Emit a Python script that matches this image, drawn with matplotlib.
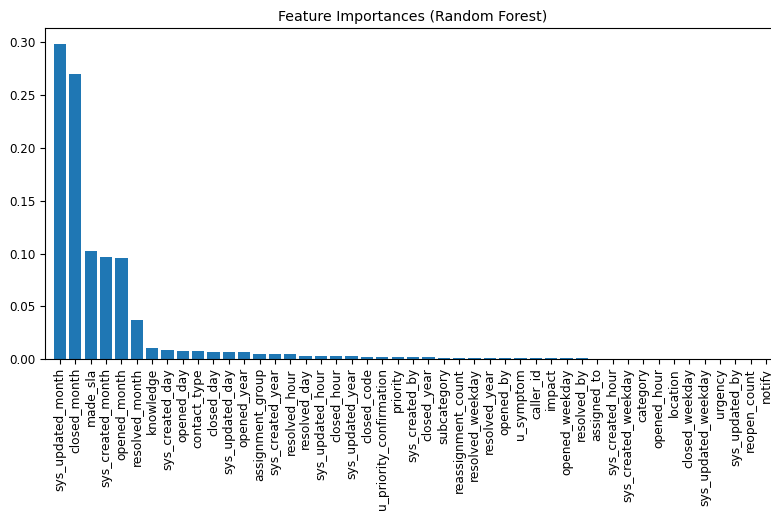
import matplotlib
matplotlib.use("Agg")
import matplotlib.pyplot as plt

features = [
    "sys_updated_month", "closed_month", "made_sla", "sys_created_month",
    "opened_month", "resolved_month", "knowledge", "sys_created_day",
    "opened_day", "contact_type", "closed_day", "sys_updated_day",
    "opened_year", "assignment_group", "sys_created_year", "resolved_hour",
    "resolved_day", "sys_updated_hour", "closed_hour", "sys_updated_year",
    "closed_code", "u_priority_confirmation", "priority", "sys_created_by",
    "closed_year", "subcategory", "reassignment_count", "resolved_weekday",
    "resolved_year", "opened_by", "u_symptom", "caller_id", "impact",
    "opened_weekday", "resolved_by", "assigned_to", "sys_created_hour",
    "sys_created_weekday", "category", "opened_hour", "location",
    "closed_weekday", "sys_updated_weekday", "urgency", "sys_updated_by",
    "reopen_count", "notify",
]

importances = [
    0.298, 0.270, 0.102, 0.097,
    0.096, 0.037, 0.0104, 0.0088,
    0.0076, 0.0076, 0.0069, 0.0069,
    0.0069, 0.0047, 0.0047, 0.0047,
    0.0031, 0.0031, 0.0031, 0.0031,
    0.0022, 0.0022, 0.0022, 0.0022,
    0.0019, 0.0015, 0.0011, 0.0011,
    0.0011, 0.0010, 0.0010, 0.0010, 0.0010,
    0.0009, 0.0009, 0.0001, 0.0,
    0.0, 0.0, 0.0, 0.0,
    0.0, 0.0, 0.0, 0.0,
    0.0, 0.0,
]

fig = plt.figure(figsize=(7.71, 5.11), dpi=100)
ax = fig.add_axes([0.0579, 0.2969, 0.9556, 0.6477])

x = list(range(len(features)))
ax.bar(x, importances, color="#1f77b4")
ax.set_xticks(x)
ax.set_xticklabels(features, rotation=90)
ax.tick_params(length=3.3, pad=3.0)
ax.tick_params(axis="x", labelsize=8.8)
ax.tick_params(axis="y", labelsize=8.6)
ax.set_xlim(-1, len(features))
ax.set_title("Feature Importances (Random Forest)", fontsize=10.2, pad=5)

fig.savefig("out.png", dpi=100)
